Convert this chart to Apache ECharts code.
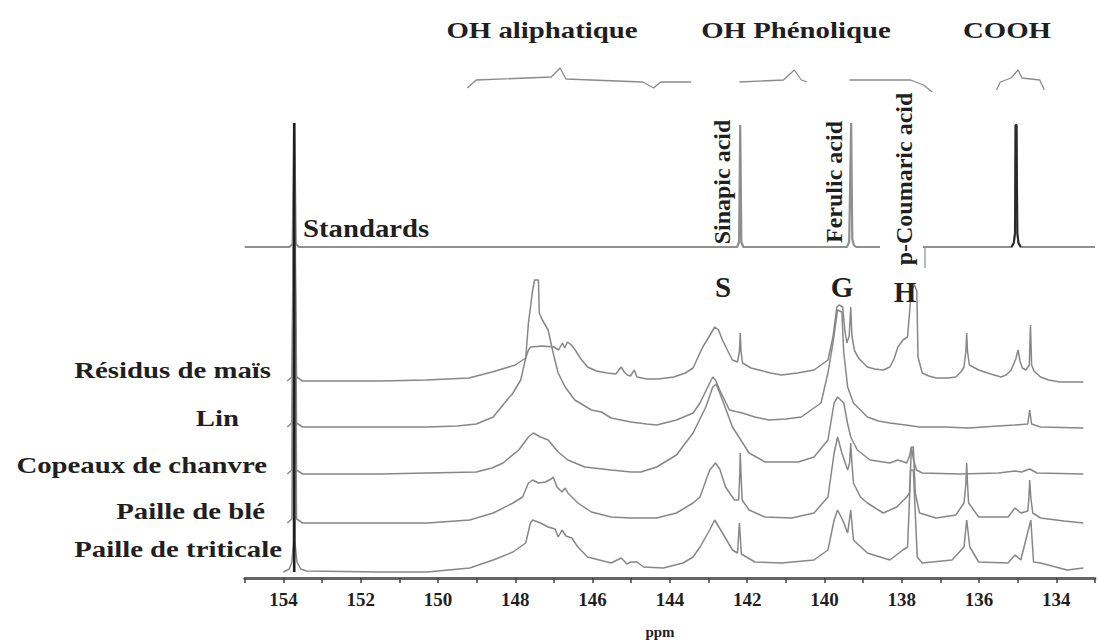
<!DOCTYPE html>
<html><head><meta charset="utf-8">
<script src="https://cdn.jsdelivr.net/npm/echarts/dist/echarts.min.js"></script>
<style>html,body{margin:0;padding:0;background:#fff}#chart{width:1098px;height:644px}</style>
</head><body><div id="chart"></div>
<script>
// ---------- DATA ----------
const xTickLabels = ['134','136','138','140','142','144','146','148','150','152','154'];
const xAxisName = 'ppm';
const sampleNames = ['Résidus de maïs','Lin','Copeaux de chanvre','Paille de blé','Paille de triticale'];
const sampleOffsets = [197, 151, 104, 55, 6];
const standardsName = 'Standards';
const standardsOffset = 331;
const referencePeakPpm = 153.72;
const referencePeakRange = [6, 455];
const coohStandardRange = [135.2, 134.9];
const regionNames = ['OH aliphatique','OH Phénolique','COOH'];
const standardNames = ['Sinapic acid','Ferulic acid','p-Coumaric acid'];
const unitNames = ['S','G','H'];

const standardsSpectrum = [[155,0],[153.85,0],[153.76,3],[153.72,124],[153.68,3],[153.6,0],
 [142.26,0],[142.21,5],[142.18,122],[142.15,5],[142.1,0],
 [139.42,0],[139.36,5],[139.31,124],[139.28,8],[139.24,2],[139.18,0],
 [137.74,0],[137.70,3],[137.67,124],[137.64,3],[137.6,0],
 [135.16,0],[135.10,4],[135.07,14],[135.055,122],[135.03,122],[135.01,14],[134.98,4],[134.92,0],[133,0]];

const residusMais = [[153.9,0],[153.78,4],[153.72,250],[153.66,4],[153.5,0],
 [151.5,0],[150.3,1],[149.2,3],[148.6,9],[148.0,16],[147.73,23],[147.66,31],[147.6,34],[147.3,35],[147.0,34],
 [146.88,31],[146.78,38],[146.72,33],[146.65,39],[146.55,36],[146.45,31],[146.3,22],[146.13,14],[145.9,10],
 [145.62,8],[145.4,7],[145.3,12],[145.26,14],[145.18,9],[145.1,6],[145.02,5],[144.92,11],[144.85,4],[144.6,2],
 [144.3,2],[143.9,4],[143.6,8],[143.4,13],[143.15,34],[142.99,44],[142.84,54],[142.74,51],[142.64,41],[142.5,30],
 [142.38,21],[142.25,19],[142.2,30],[142.18,48],[142.16,30],[142.12,18],[141.9,13],[141.69,11],[141.4,8],[141.11,6],
 [140.7,8],[140.27,11],[139.91,21],[139.78,44],[139.68,74],[139.62,76],[139.53,74],[139.47,50],[139.42,38],[139.36,45],
 [139.32,74],[139.29,45],[139.22,30],[139.1,22],[138.89,14],[138.7,12],[138.48,11],[138.31,14],[138.2,22],[138.1,34],
 [137.97,41],[137.85,44],[137.8,68],[137.75,91],[137.67,96],[137.61,90],[137.58,24],[137.47,8],[137.3,5],[137.11,3],
 [136.8,3],[136.6,4],[136.45,10],[136.39,14],[136.34,30],[136.32,48],[136.3,30],[136.25,16],[136.01,11],[135.7,7],
 [135.43,4],[135.3,6],[135.17,11],[135.05,22],[134.99,31],[134.94,20],[134.88,13],[134.79,11],[134.7,16],[134.67,56],
 [134.64,16],[134.58,10],[134.41,4],[134.2,1],[133.9,-1],[133.3,-1]];

const lin = [[153.9,0],[153.78,4],[153.72,290],[153.66,4],[153.5,0],
 [151.5,0],[150.3,0],[149.5,1],[149.01,3],[148.57,10],[148.32,22],[148.06,34],[147.86,47],[147.73,69],[147.66,104],
 [147.55,137],[147.5,147],[147.4,147],[147.38,114],[147.3,107],[147.15,97],[147.02,74],[146.89,54],[146.71,40],
 [146.46,27],[146.03,17],[145.77,15],[145.52,9],[145.01,5],[144.6,3],[144.34,2],[143.83,7],[143.4,14],[143.22,24],
 [142.97,44],[142.89,50],[142.82,47],[142.71,37],[142.46,17],[142.13,14],[141.8,10],[141.44,7],[141.0,8],[140.6,10],
 [140.09,24],[139.91,54],[139.78,84],[139.66,117],[139.55,115],[139.5,74],[139.4,40],[139.25,24],[138.89,10],
 [138.6,6],[138.31,4],[137.9,2],[137.54,0],[136.9,0],[136.27,-1],[135.5,1],[135.07,2],[134.74,3],[134.69,17],
 [134.64,3],[134.41,0],[133.3,-1]];

const copeauxChanvre = [[153.9,0],[153.78,4],[153.72,330],[153.66,4],[153.5,0],
 [151.5,0],[150.28,1],[149.01,2],[148.6,6],[148.32,11],[147.91,24],[147.66,37],[147.53,41],[147.35,37],[147.15,34],
 [146.89,22],[146.64,14],[146.2,7],[145.52,4],[145.0,2],[144.75,2],[144.34,7],[143.83,19],[143.4,41],[143.07,67],
 [142.89,87],[142.8,90],[142.64,74],[142.38,47],[141.95,21],[141.54,12],[140.68,12],[140.27,17],[139.91,34],
 [139.75,71],[139.66,77],[139.5,71],[139.4,50],[139.32,37],[139.15,24],[138.82,14],[138.31,11],[138.1,14],
 [137.87,11],[137.8,18],[137.75,27],[137.7,15],[137.62,4],[137.47,1],[136.5,0],[135.5,1],[135.07,3],[134.9,2],
 [134.69,5],[134.5,1],[133.3,0]];

const pailleBle = [[153.9,0],[153.78,4],[153.72,370],[153.66,4],[153.5,0],
 [151.5,0],[150.28,0],[149.18,3],[148.57,10],[148.06,20],[147.81,26],[147.66,40],[147.55,43],[147.4,40],[147.22,41],
 [147.07,44],[147.02,46],[146.92,36],[146.79,31],[146.71,35],[146.64,30],[146.38,20],[146.03,11],[145.52,6],
 [145.01,5],[144.34,5],[143.83,10],[143.4,20],[143.22,26],[142.97,53],[142.82,60],[142.71,54],[142.56,36],
 [142.33,23],[142.22,23],[142.19,50],[142.18,70],[142.16,50],[142.13,23],[141.95,13],[141.54,6],[140.85,5],
 [140.27,10],[139.91,26],[139.75,70],[139.66,86],[139.55,70],[139.4,53],[139.35,60],[139.32,80],[139.29,60],
 [139.25,40],[139.07,26],[138.89,20],[138.48,10],[138.13,16],[137.87,26],[137.8,30],[137.75,76],[137.7,76],
 [137.65,30],[137.54,10],[137.11,5],[136.6,8],[136.39,20],[136.34,40],[136.32,60],[136.3,40],[136.27,20],
 [136.01,6],[135.25,6],[135.07,15],[134.92,10],[134.74,12],[134.71,25],[134.69,43],[134.66,25],[134.61,10],
 [134.41,5],[133.8,2],[133.3,0]];

const pailleTriticale = [[154.0,0],[153.85,3],[153.78,10],[153.74,30],[153.72,449],[153.7,30],[153.65,10],[153.55,3],[153.4,1],
 [151.5,0],[150.28,0],[149.18,4],[148.57,12],[148.06,20],[147.73,29],[147.61,49],[147.55,52],[147.35,49],[147.15,45],
 [146.97,43],[146.89,35],[146.79,42],[146.69,36],[146.54,34],[146.38,25],[146.13,15],[145.52,9],[145.26,14],
 [145.11,8],[145.01,10],[144.85,10],[144.68,5],[144.17,4],[143.66,9],[143.4,15],[143.22,25],[142.97,42],[142.84,52],
 [142.64,39],[142.38,22],[142.25,19],[142.2,49],[142.15,18],[141.8,10],[141.11,9],[140.27,12],[139.91,22],
 [139.75,52],[139.66,62],[139.53,52],[139.4,39],[139.32,62],[139.25,32],[138.89,19],[138.31,12],[137.97,22],
 [137.85,25],[137.77,102],[137.7,102],[137.6,15],[137.47,9],[136.7,12],[136.39,25],[136.32,52],[136.24,25],
 [136.01,10],[135.25,9],[135.07,17],[134.92,12],[134.66,52],[134.59,10],[134.41,9],[133.72,2],[133.3,4]];

const braceAliphatique = [[149.24,490],[149.01,498],[147.07,501],[146.84,510],[146.69,499],[144.70,496],[144.42,490],[144.24,496],[143.45,496]];
const bracePhenolique = [[142.20,496],[141.06,498],[140.78,508],[140.60,498],[140.45,496]];
const braceHydroxy = [[139.35,498],[137.77,498],[137.44,493],[137.21,486]];
const braceCooh = [[135.55,488],[135.45,496],[135.17,500],[134.99,508],[134.89,500],[134.43,498],[134.31,488]];

// ---------- CHART ----------
const chart = echarts.init(document.getElementById('chart'), null, {renderer: 'svg'});
const serif = 'Liberation Serif';
const lineGrey = '#878787';
const sampleSpectra = [residusMais, lin, copeauxChanvre, pailleBle, pailleTriticale];

const series = [];
series.push({type:'line', name: standardsName, data: standardsSpectrum.map(([p,h]) => [p, h + standardsOffset]),
  showSymbol:false, symbol:'none', silent:true, lineStyle:{color:'#8f8f8f', width:2.2}, z:2});
series.push({type:'line', name: 'COOH standard',
  data: standardsSpectrum.filter(([p]) => p <= coohStandardRange[0] && p >= coohStandardRange[1]).map(([p,h]) => [p, h + standardsOffset]),
  showSymbol:false, symbol:'none', silent:true, lineStyle:{color:'#2a2a2a', width:2}, z:4});
sampleSpectra.forEach((sp, i) => {
  series.push({type:'line', name: sampleNames[i], data: sp.map(([p,h]) => [p, h + sampleOffsets[i]]),
    showSymbol:false, symbol:'none', silent:true, lineStyle:{color: lineGrey, width:1.5}, z:3});
});
series.push({type:'line', name:'reference', data: referencePeakRange.map(h => [referencePeakPpm, h]),
  showSymbol:false, symbol:'none', silent:true, lineStyle:{color:'#1e1e1e', width:2.6}, z:6});
[braceAliphatique, bracePhenolique, braceHydroxy, braceCooh].forEach(b => {
  series.push({type:'line', data: b, showSymbol:false, symbol:'none', silent:true,
    lineStyle:{color:'#8a8a8a', width:1.3}, z:3});
});

function txt(text, x, y, size, align, opts) {
  return Object.assign({type:'text', x, y, z:110, silent:true,
    style:{text, fill:'#1f1f1f', fontSize:size, fontWeight:'bold', fontFamily:serif,
      textAlign: align, textVerticalAlign:'middle', align: align, verticalAlign:'middle'}}, opts || {});
}

const graphics = [
  {type:'rect', shape:{x:880, y:86, width:43, height:182}, style:{fill:'#fff'}, z:100, silent:true},
  {type:'line', shape:{x1:925, y1:247, x2:925, y2:268}, style:{stroke:'#8a8a8a', lineWidth:1.2}, z:101, silent:true},
  txt(regionNames[0], 542, 30, 24, 'center', {scaleX:1.2}),
  txt(regionNames[1], 796, 30, 24, 'center', {scaleX:1.2}),
  txt(regionNames[2], 1007, 30, 24, 'center', {scaleX:1.2}),
  txt(standardsName, 303, 229, 25, 'left', {scaleX:1.15}),
  txt(standardNames[0], 722, 182, 24, 'center', {rotation: Math.PI/2}),
  txt(standardNames[1], 834, 182, 24, 'center', {rotation: Math.PI/2}),
  txt(standardNames[2], 904, 179, 24, 'center', {rotation: Math.PI/2}),
  txt(unitNames[0], 723, 287, 29, 'center'),
  txt(unitNames[1], 842, 287, 29, 'center'),
  txt(unitNames[2], 905, 292, 29, 'center'),
  txt(sampleNames[0], 271, 370, 24, 'right', {scaleX:1.2}),
  txt(sampleNames[1], 239, 418, 24, 'right', {scaleX:1.2}),
  txt(sampleNames[2], 267, 465, 24, 'right', {scaleX:1.2}),
  txt(sampleNames[3], 265, 511, 24, 'right', {scaleX:1.2}),
  txt(sampleNames[4], 282, 549, 24, 'right', {scaleX:1.2}),
  txt(xAxisName, 660, 632, 15, 'center')
];

chart.setOption({
  animation:false,
  backgroundColor:'#fff',
  grid:{left:244.75, right:-10.25, top:0, bottom:66, containLabel:false},
  xAxis:{type:'value', inverse:true, min:133, max:155, interval:1,
    axisLine:{show:true, onZero:false, lineStyle:{color:'#666', width:3}},
    axisTick:{show:true, length:5, lineStyle:{color:'#444', width:1.5}},
    splitLine:{show:false},
    axisLabel:{margin:12, color:'#1f1f1f', fontFamily:serif, fontWeight:'bold', fontSize:19,
      formatter: v => xTickLabels.includes(String(v)) ? String(v) : ''}},
  yAxis:{type:'value', min:0, max:578, show:false},
  series,
  graphic: graphics
});
</script></body></html>
